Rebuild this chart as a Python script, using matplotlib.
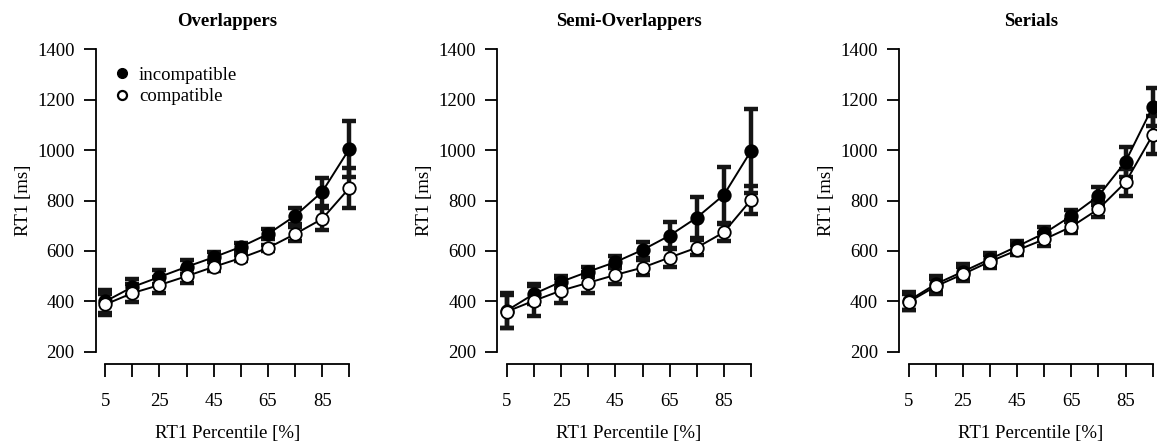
import matplotlib.pyplot as plt
from matplotlib.lines import Line2D

plt.rcParams['font.family'] = ['Liberation Serif', 'DejaVu Serif']

percentiles = [5, 15, 25, 35, 45, 55, 65, 75, 85, 95]
tick_labels = ['5', '', '25', '', '45', '', '65', '', '85', '']
titles = ['Overlappers', 'Semi-Overlappers', 'Serials']

# mean RT1 and error bar half-widths per group
over_incomp = [400, 457, 497, 537, 575, 616, 667, 739, 834, 1004]
over_incomp_err = [45, 33, 28, 27, 20, 15, 20, 32, 55, 110]
over_comp = [388, 433, 465, 500, 537, 572, 612, 667, 727, 849]
over_comp_err = [40, 35, 30, 27, 18, 12, 12, 27, 45, 80]

semi_incomp = [364, 430, 478, 518, 556, 604, 661, 732, 822, 996]
semi_incomp_err = [70, 40, 23, 20, 25, 33, 55, 82, 112, 168]
semi_comp = [360, 403, 443, 474, 505, 534, 574, 613, 674, 802]
semi_comp_err = [65, 60, 49, 41, 35, 31, 36, 30, 33, 55]

ser_incomp = [403, 469, 518, 568, 618, 670, 739, 818, 954, 1171]
ser_incomp_err = [35, 33, 30, 25, 20, 24, 23, 37, 59, 75]
ser_comp = [398, 460, 508, 558, 603, 646, 696, 766, 872, 1059]
ser_comp_err = [32, 30, 28, 25, 20, 25, 25, 33, 53, 75]

groups = [
    (over_incomp, over_incomp_err, over_comp, over_comp_err),
    (semi_incomp, semi_incomp_err, semi_comp, semi_comp_err),
    (ser_incomp, ser_incomp_err, ser_comp, ser_comp_err),
]

W, H = 1157, 446
fig = plt.figure(figsize=(W / 100, H / 100), dpi=100)

fs = 13.5
for i, (inc, inc_e, com, com_e) in enumerate(groups):
    left = 95.5 + i * 401.7
    ax = fig.add_axes([left / W, (H - 364) / H, 263.5 / W, 327 / H])
    ax.set_xlim(1.4, 98.6)
    ax.set_ylim(152, 1448)

    for y, e in [(inc, inc_e), (com, com_e)]:
        ax.errorbar(percentiles, y, yerr=e, fmt='none', ecolor='#151515',
                    elinewidth=3.2, capsize=5, capthick=3.2, zorder=2)
    ax.plot(percentiles, inc, color='black', lw=1.4, zorder=3)
    ax.plot(percentiles, com, color='black', lw=1.4, zorder=3)
    ax.plot(percentiles, inc, 'o', ms=9, mfc='black', mec='black', mew=1.3,
            zorder=4, clip_on=False)
    ax.plot(percentiles, com, 'o', ms=9, mfc='white', mec='black', mew=1.3,
            zorder=4, clip_on=False)

    for s in ['top', 'right']:
        ax.spines[s].set_visible(False)
    ax.spines['left'].set_bounds(200, 1400)
    ax.spines['bottom'].set_bounds(5, 95)
    ax.spines['left'].set_linewidth(1.3)
    ax.spines['bottom'].set_linewidth(1.3)
    ax.set_yticks(range(200, 1401, 200))
    ax.set_xticks(percentiles)
    ax.set_xticklabels(tick_labels)
    ax.tick_params(length=9, width=1.3, labelsize=fs, pad=6)
    ax.tick_params(axis='x', pad=12)

    ax.set_title(titles[i], fontsize=fs, fontweight='bold', pad=8)
    ax.set_xlabel('RT1 Percentile [%]', fontsize=fs, labelpad=11)
    ax.set_ylabel('RT1 [ms]', fontsize=fs, labelpad=4)

    if i == 0:
        handles = [
            Line2D([], [], marker='o', ls='', ms=7, mfc='black', mec='black'),
            Line2D([], [], marker='o', ls='', ms=6.5, mfc='white', mec='black', mew=1.6),
        ]
        ax.legend(handles, ['incompatible', 'compatible'], loc='upper left',
                  bbox_to_anchor=(0.072, 0.91), frameon=False, fontsize=fs,
                  handlelength=0.8, handletextpad=0.5, labelspacing=0.25,
                  borderaxespad=0, borderpad=0)

fig.savefig('out.png', dpi=100)
